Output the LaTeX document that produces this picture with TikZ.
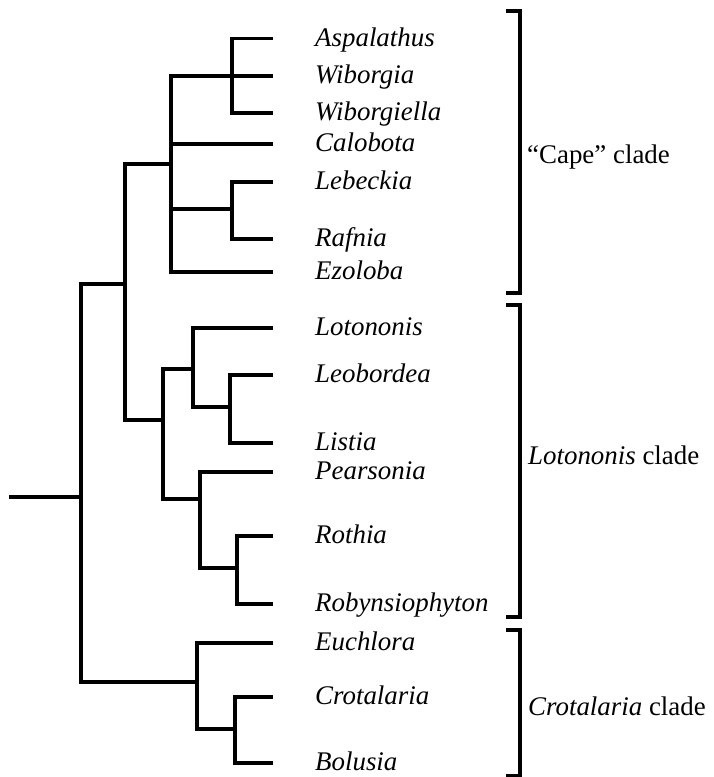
\documentclass[tikz,border=0pt]{standalone}
\usepackage{fontspec}
\setmainfont{Liberation Serif}
\begin{document}
\begin{tikzpicture}[x=1bp,y=-1bp,
  br/.style={line width=3.2bp,line cap=butt,line join=miter},
  leaf/.style={anchor=base west,inner sep=0pt,font=\fontsize{27}{30}\selectfont\itshape},
  cladelab/.style={anchor=base west,inner sep=0pt,font=\fontsize{27}{30}\selectfont}]
\useasboundingbox (0,0) rectangle (714,777);
% leaf labels
\node[leaf] (asp) at (315,46.5) {Aspalathus};
\node[leaf] (wib) at (315,83) {Wiborgia};
\node[leaf] (wibl) at (315,120) {Wiborgiella};
\node[leaf] (cal) at (315,151) {Calobota};
\node[leaf] (leb) at (315,189) {Lebeckia};
\node[leaf] (raf) at (315,246) {Rafnia};
\node[leaf] (ezo) at (315,279) {Ezoloba};
\node[leaf] (lot) at (315,335) {Lotononis};
\node[leaf] (leo) at (315,382) {Leobordea};
\node[leaf] (lis) at (315,450) {Listia};
\node[leaf] (pea) at (315,479) {Pearsonia};
\node[leaf] (rot) at (315,543) {Rothia};
\node[leaf] (rob) at (315,611) {Robynsiophyton};
\node[leaf] (euc) at (315,650) {Euchlora};
\node[leaf] (cro) at (315,704) {Crotalaria};
\node[leaf] (bol) at (315,770) {Bolusia};
% leaf tips
\foreach \n/\y in {asp/38.5,wib/76,wibl/113,cal/144,leb/182,raf/239,ezo/272,lot/328,leo/375,lis/443,pea/472,rot/536,rob/604,euc/643,cro/697,bol/763}
  \coordinate (t\n) at (273,\y);
% internal nodes (point where each clade joins its parent)
\coordinate (root) at (9,497);
\coordinate (nA) at (81,497);
\coordinate (nB) at (125,284);
\coordinate (nC) at (171,164);
\coordinate (nAW) at (232,76);
\coordinate (nLR) at (232,209);
\coordinate (nL) at (163,420);
\coordinate (nLo) at (193,369);
\coordinate (nLL) at (230,407);
\coordinate (nP) at (200,499);
\coordinate (nRR) at (237,568);
\coordinate (nK) at (197,682);
\coordinate (nCB) at (235,729);
% tree
\draw[br] (root) -- (nA);
\draw[br] (nB) -| (nA) |- (nK);
\draw[br] (nC) -| (nB) |- (nL);
\draw[br] (nAW) -| (nC) |- (tezo);
\draw[br] (nC |- tcal) -- (tcal);
\draw[br] (nC |- nLR) -- (nLR);
\draw[br] (tasp) -| (nAW) |- (twibl);
\draw[br] (nAW) -- (twib);
\draw[br] (tleb) -| (nLR) |- (traf);
\draw[br] (nLo) -| (nL) |- (nP);
\draw[br] (tlot) -| (nLo) |- (nLL);
\draw[br] (tleo) -| (nLL) |- (tlis);
\draw[br] (tpea) -| (nP) |- (nRR);
\draw[br] (trot) -| (nRR) |- (trob);
\draw[br] (teuc) -| (nK) |- (nCB);
\draw[br] (tcro) -| (nCB) |- (tbol);
% clade brackets
\coordinate (b1t) at (506,11);  \coordinate (b1b) at (506,293);
\coordinate (b2t) at (506,305); \coordinate (b2b) at (506,617);
\coordinate (b3t) at (506,630); \coordinate (b3b) at (506,776);
\draw[br] (b1t) -- ++(14,0) |- (b1b);
\draw[br] (b2t) -- ++(14,0) |- (b2b);
\draw[br] (b3t) -- ++(14,0) |- (b3b);
\node[cladelab] (cape) at (527,163) {\char"201C Cape\char"201D{} clade};
\node[cladelab] (lotc) at (528,464) {\textit{Lotononis} clade};
\node[cladelab] (croc) at (528,715) {\textit{Crotalaria} clade};
\end{tikzpicture}
\end{document}
